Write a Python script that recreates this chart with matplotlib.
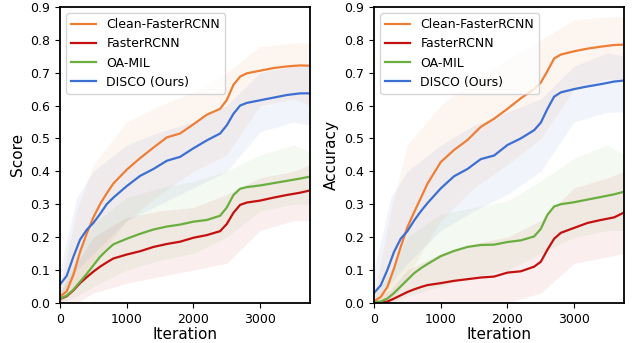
import numpy as np
import matplotlib
matplotlib.use('Agg')
import matplotlib.pyplot as plt

#--------------------------------------
# Smoothed curves
#--------------------------------------
iters = [0, 100, 200, 300, 400, 500, 600, 700, 800, 1000, 1200, 1400, 1600,
         1800, 2000, 2200, 2400, 2500, 2600, 2700, 2800, 3000, 3200, 3400,
         3600, 3750]

score_clean = [0.019, 0.035, 0.085, 0.155, 0.21, 0.26, 0.30, 0.333, 0.363, 0.405,
               0.44, 0.472, 0.503, 0.515, 0.543, 0.572, 0.59, 0.617, 0.663, 0.688,
               0.698, 0.706, 0.714, 0.719, 0.722, 0.721]
score_frcnn = [0.012, 0.02, 0.038, 0.06, 0.078, 0.095, 0.11, 0.123, 0.135, 0.147,
               0.157, 0.17, 0.179, 0.186, 0.198, 0.206, 0.218, 0.24, 0.274, 0.298,
               0.305, 0.311, 0.32, 0.328, 0.335, 0.342]
score_oamil = [0.013, 0.022, 0.04, 0.064, 0.088, 0.114, 0.14, 0.16, 0.178, 0.195,
               0.21, 0.223, 0.232, 0.238, 0.247, 0.252, 0.265, 0.29, 0.328, 0.347,
               0.352, 0.357, 0.364, 0.371, 0.378, 0.384]
score_disco = [0.056, 0.082, 0.14, 0.192, 0.222, 0.243, 0.27, 0.30, 0.32, 0.355,
               0.386, 0.407, 0.432, 0.444, 0.47, 0.494, 0.515, 0.54, 0.575, 0.60,
               0.608, 0.616, 0.624, 0.632, 0.637, 0.637]

acc_clean = [0.005, 0.018, 0.048, 0.105, 0.17, 0.23, 0.275, 0.318, 0.362, 0.428,
             0.465, 0.495, 0.535, 0.56, 0.59, 0.622, 0.65, 0.67, 0.705, 0.743,
             0.755, 0.765, 0.773, 0.779, 0.784, 0.785]
acc_frcnn = [0.0, 0.001, 0.004, 0.013, 0.023, 0.033, 0.041, 0.048, 0.054, 0.06,
             0.067, 0.072, 0.077, 0.08, 0.092, 0.096, 0.11, 0.125, 0.162, 0.195,
             0.213, 0.228, 0.243, 0.252, 0.26, 0.275]
acc_oamil = [0.002, 0.004, 0.013, 0.03, 0.05, 0.07, 0.09, 0.105, 0.118, 0.142,
             0.158, 0.17, 0.176, 0.177, 0.185, 0.19, 0.202, 0.225, 0.268, 0.293,
             0.30, 0.306, 0.314, 0.322, 0.33, 0.338]
acc_disco = [0.03, 0.053, 0.10, 0.155, 0.195, 0.218, 0.25, 0.278, 0.303, 0.348,
             0.385, 0.407, 0.437, 0.448, 0.48, 0.50, 0.525, 0.548, 0.59, 0.627,
             0.64, 0.65, 0.658, 0.665, 0.673, 0.676]

#--------------------------------------
# Raw-curve spread (rough lower / upper envelope of the faint noise)
#--------------------------------------
env_iters = [0, 250, 500, 1000, 1500, 2000, 2500, 3000, 3500, 3750]

score_clean_lo = [0.0, 0.05, 0.12, 0.25, 0.33, 0.40, 0.45, 0.60, 0.62, 0.60]
score_clean_hi = [0.05, 0.28, 0.42, 0.55, 0.60, 0.64, 0.70, 0.78, 0.79, 0.79]
score_frcnn_lo = [0.0, 0.0, 0.03, 0.06, 0.08, 0.10, 0.12, 0.22, 0.25, 0.25]
score_frcnn_hi = [0.03, 0.12, 0.20, 0.26, 0.28, 0.29, 0.33, 0.38, 0.40, 0.42]
score_oamil_lo = [0.0, 0.02, 0.05, 0.10, 0.13, 0.15, 0.20, 0.28, 0.30, 0.30]
score_oamil_hi = [0.03, 0.14, 0.24, 0.32, 0.35, 0.37, 0.40, 0.45, 0.48, 0.46]
score_disco_lo = [0.02, 0.10, 0.15, 0.25, 0.30, 0.35, 0.40, 0.52, 0.55, 0.54]
score_disco_hi = [0.10, 0.32, 0.40, 0.48, 0.52, 0.55, 0.60, 0.70, 0.72, 0.72]

acc_clean_lo = [0.0, 0.0, 0.08, 0.25, 0.35, 0.42, 0.50, 0.65, 0.68, 0.68]
acc_clean_hi = [0.02, 0.28, 0.48, 0.60, 0.68, 0.74, 0.80, 0.86, 0.87, 0.87]
acc_frcnn_lo = [0.0, 0.0, 0.0, 0.0, 0.0, 0.0, 0.03, 0.12, 0.14, 0.15]
acc_frcnn_hi = [0.01, 0.04, 0.10, 0.15, 0.18, 0.20, 0.25, 0.35, 0.38, 0.40]
acc_oamil_lo = [0.0, 0.0, 0.02, 0.05, 0.08, 0.10, 0.15, 0.20, 0.22, 0.22]
acc_oamil_hi = [0.01, 0.10, 0.20, 0.27, 0.29, 0.31, 0.37, 0.44, 0.48, 0.45]
acc_disco_lo = [0.01, 0.06, 0.12, 0.22, 0.28, 0.33, 0.40, 0.55, 0.58, 0.58]
acc_disco_hi = [0.10, 0.32, 0.40, 0.48, 0.54, 0.58, 0.62, 0.72, 0.76, 0.75]

labels = ['Clean-FasterRCNN', 'FasterRCNN', 'OA-MIL', 'DISCO (Ours)']
colors = ['#EF7E35', '#C4100F', '#6AAE3E', '#3C6FD2']

#--------------------------------------
# Plotting
#--------------------------------------
plt.rcParams['font.family'] = 'DejaVu Sans'

fig = plt.figure(figsize=(6.35, 3.43), dpi=100)
ax1 = fig.add_axes([0.0945, 0.117, 0.394, 0.863])
ax2 = fig.add_axes([0.589, 0.117, 0.394, 0.863])

panels = [
    (ax1, 'Score',
     [score_clean, score_frcnn, score_oamil, score_disco],
     [(score_clean_lo, score_clean_hi), (score_frcnn_lo, score_frcnn_hi),
      (score_oamil_lo, score_oamil_hi), (score_disco_lo, score_disco_hi)]),
    (ax2, 'Accuracy',
     [acc_clean, acc_frcnn, acc_oamil, acc_disco],
     [(acc_clean_lo, acc_clean_hi), (acc_frcnn_lo, acc_frcnn_hi),
      (acc_oamil_lo, acc_oamil_hi), (acc_disco_lo, acc_disco_hi)]),
]

for ax, ylab, curves, bands in panels:
    for (lo, hi), c in zip(bands, colors):
        ax.fill_between(env_iters, lo, hi, color=c, alpha=0.07, lw=0)
    for y, c, lab in zip(curves, colors, labels):
        ax.plot(iters, y, color=c, lw=1.6, label=lab)
    ax.set_xlim(0, 3750)
    ax.set_ylim(0, 0.9)
    ax.set_xticks([0, 1000, 2000, 3000])
    ax.set_yticks(np.arange(0, 0.91, 0.1))
    ax.set_xlabel('Iteration', fontsize=11, labelpad=1)
    ax.set_ylabel(ylab, fontsize=11)
    ax.tick_params(labelsize=9)
    for s in ax.spines.values():
        s.set_linewidth(1.3)
    ax.legend(loc='upper left', fontsize=9)

plt.savefig('out.png', dpi=100)
